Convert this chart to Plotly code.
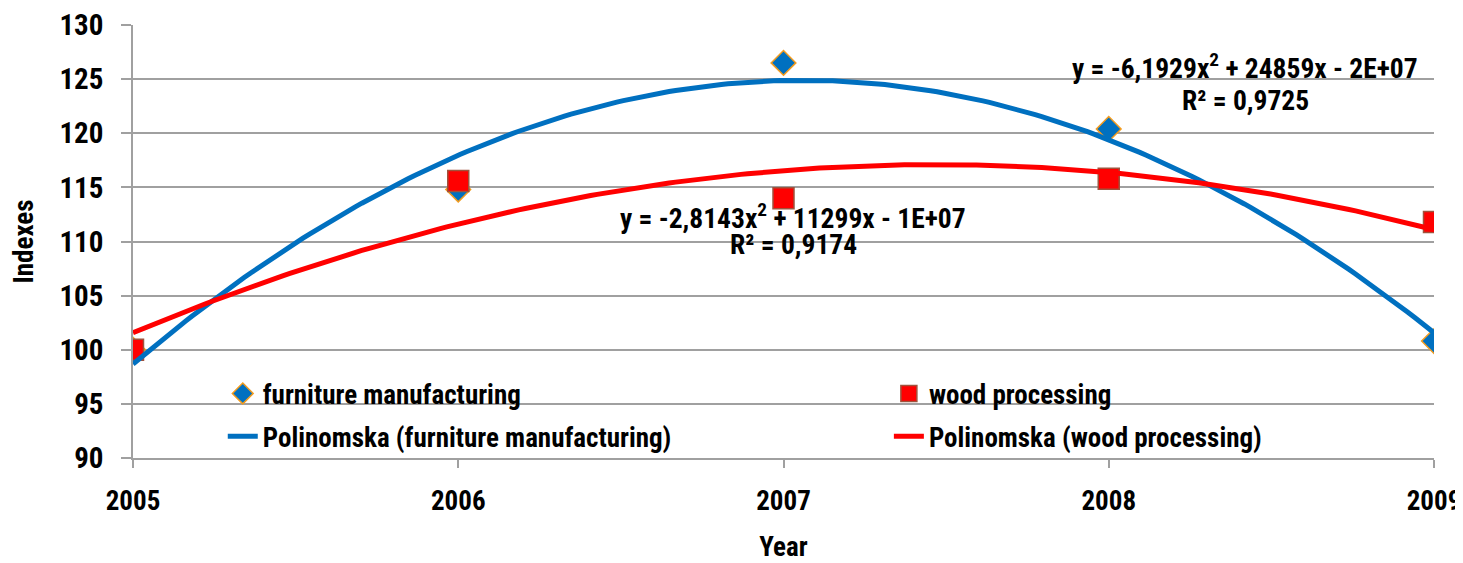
import numpy as np
import plotly.graph_objects as go

years = [2005, 2006, 2007, 2008, 2009]
furniture = [100.0, 114.8, 126.5, 120.4, 100.8]
wood = [100.0, 115.6, 114.0, 115.8, 111.8]

furn_eq = "y = -6,1929x<sup>2</sup> + 24859x - 2E+07"
furn_r2 = "R² = 0,9725"
wood_eq = "y = -2,8143x<sup>2</sup> + 11299x - 1E+07"
wood_r2 = "R² = 0,9174"

FONT = "Liberation Sans Narrow, Arial Narrow, Roboto Condensed, Liberation Sans, Arial"

x_arr = np.array(years, dtype=float)
xs = np.linspace(years[0], years[-1], 200)
pf = np.polyfit(x_arr - x_arr.mean(), furniture, 2)
pw = np.polyfit(x_arr - x_arr.mean(), wood, 2)
fit_f = np.polyval(pf, xs - x_arr.mean())
fit_w = np.polyval(pw, xs - x_arr.mean())

fig = go.Figure()
fig.add_trace(go.Scatter(
    x=years, y=furniture, mode="markers", name="furniture manufacturing",
    marker=dict(symbol="diamond", size=19, color="#0070C0",
                line=dict(color="#F39C1F", width=1.5)),
    legend="legend"))
fig.add_trace(go.Scatter(
    x=years, y=wood, mode="markers", name="wood processing",
    marker=dict(symbol="square", size=21, color="#FF0000",
                line=dict(color="#A0523C", width=1.5)),
    legend="legend2"))
fig.add_trace(go.Scatter(
    x=xs, y=fit_f, mode="lines", name="Polinomska (furniture manufacturing)",
    line=dict(color="#0070C0", width=5), legend="legend3"))
fig.add_trace(go.Scatter(
    x=xs, y=fit_w, mode="lines", name="Polinomska (wood processing)",
    line=dict(color="#FF0000", width=5), legend="legend4"))

afont = dict(size=27.5, family=FONT, color="#000", weight="bold")
fig.add_annotation(x=2008.42, y=126.2, xref="x", yref="y", text=furn_eq,
                   showarrow=False, font=afont)
fig.add_annotation(x=2008.42, y=123.0, xref="x", yref="y", text=furn_r2,
                   showarrow=False, font=afont)
fig.add_annotation(x=2007.03, y=112.3, xref="x", yref="y", text=wood_eq,
                   showarrow=False, font=afont)
fig.add_annotation(x=2007.03, y=109.7, xref="x", yref="y", text=wood_r2,
                   showarrow=False, font=afont)

legfont = dict(size=27, family=FONT, color="#000", weight="bold")


def leg(x, y):
    return dict(x=x, y=y, xanchor="left", yanchor="middle",
                bgcolor="rgba(0,0,0,0)", font=legfont, itemwidth=30)


fig.update_layout(
    width=1455, height=555,
    margin=dict(l=125, r=29, t=17, b=105),
    paper_bgcolor="white", plot_bgcolor="white",
    showlegend=True,
    legend=leg(0.069, 0.148),
    legend2=leg(0.581, 0.148),
    legend3=leg(0.069, 0.049),
    legend4=leg(0.581, 0.049),
    xaxis=dict(range=[2005, 2009], tickvals=years, ticktext=[str(y) for y in years],
               automargin=False,
               showgrid=False, zeroline=False, showline=True, linecolor="#A0A0A0",
               linewidth=1.5, ticks="outside", ticklen=8, tickcolor="#A0A0A0",
               tickwidth=1.5, ticklabelstandoff=10,
               tickfont=dict(size=27, family=FONT, color="#000", weight="bold"),
               title=dict(text="Year", standoff=24,
                          font=dict(size=27, family=FONT, color="#000", weight="bold"))),
    yaxis=dict(range=[90, 130], dtick=5, showgrid=True, gridcolor="#A0A0A0", gridwidth=1.5,
               automargin=False,
               zeroline=False, showline=True, linecolor="#A0A0A0", linewidth=1.5,
               ticks="outside", ticklen=10, tickcolor="#A0A0A0", tickwidth=1.5,
               ticklabelstandoff=12,
               tickfont=dict(size=29, family=FONT, color="#000", weight="bold"),
               title=dict(text="Indexes", standoff=19,
                          font=dict(size=27, family=FONT, color="#000", weight="bold"))),
)
fig.write_html("out.html")
